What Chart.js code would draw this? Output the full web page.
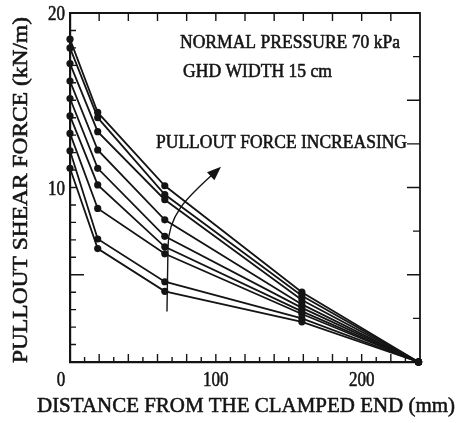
<!DOCTYPE html>
<html>
<head>
<meta charset="utf-8">
<script src="https://cdn.jsdelivr.net/npm/chart.js@4.4.1/dist/chart.umd.min.js"></script>
<style>
  html, body { margin: 0; padding: 0; background: #fff; }
  #wrap { width: 456px; height: 423px; }
</style>
</head>
<body>
<div id="wrap"><canvas id="shearChart"></canvas></div>
<script>
// Distance from the clamped end (mm)
const distanceMm = [0, 19, 65, 159, 239];

// Pullout shear force (kN/m), one array per pullout load step
const force1 = [18.5, 14.3, 10.1, 4.0, 0];
const force2 = [18.0, 14.0, 9.6, 3.8, 0];
const force3 = [17.1, 13.2, 9.3, 3.55, 0];
const force4 = [16.1, 12.15, 8.15, 3.3, 0];
const force5 = [15.1, 11.1, 7.2, 3.1, 0];
const force6 = [14.1, 10.15, 6.6, 2.9, 0];
const force7 = [13.1, 8.8, 6.2, 2.75, 0];
const force8 = [12.1, 7.05, 4.6, 2.5, 0];
const force9 = [11.1, 6.5, 4.05, 2.3, 0];
const allForces = [force1, force2, force3, force4, force5, force6, force7, force8, force9];

const xLabels = [0, 100, 200];
const yLabels = [10, 20];

const INK = '#141414';
const SERIF = '"Liberation Serif", "DejaVu Serif", serif';

// draw text squeezed/stretched to a given width, a little heavy like the scan
function fitText(ctx, text, x, y, width, size) {
  ctx.font = `${size}px ${SERIF}`;
  const w = ctx.measureText(text).width;
  ctx.save();
  ctx.translate(x, y);
  ctx.scale(width / w, 1);
  ctx.textAlign = 'left';
  ctx.textBaseline = 'alphabetic';
  ctx.lineWidth = 0.55;
  ctx.lineJoin = 'round';
  ctx.fillText(text, 0, 0);
  ctx.strokeText(text, 0, 0);
  ctx.restore();
}

const framePlugin = {
  id: 'frame',
  afterDraw(chart) {
    const { ctx, chartArea: a, scales: { x, y } } = chart;
    ctx.save();
    ctx.strokeStyle = INK;
    ctx.fillStyle = INK;

    // top and right border
    ctx.lineWidth = 1.8;
    ctx.beginPath();
    ctx.moveTo(a.left, a.top);
    ctx.lineTo(a.right, a.top);
    ctx.lineTo(a.right, a.bottom);
    ctx.stroke();

    // inward ticks
    ctx.lineWidth = 1.4;
    ctx.beginPath();
    for (let v = 10; v < 240; v += 10) {
      const px = x.getPixelForValue(v);
      const len = v % 20 === 0 ? 8 : 5;
      ctx.moveTo(px, a.bottom);
      ctx.lineTo(px, a.bottom - len);
    }
    for (let v = 20; v < 240; v += 20) {
      const px = x.getPixelForValue(v);
      ctx.moveTo(px, a.top);
      ctx.lineTo(px, a.top + 8);
    }
    for (let v = 1; v < 20; v++) {
      const py = y.getPixelForValue(v);
      const len = v === 5 ? 14 : 6;
      ctx.moveTo(a.left, py);
      ctx.lineTo(a.left + len, py);
    }
    for (let v = 2.5; v < 20; v += 2.5) {
      const py = y.getPixelForValue(v);
      const len = v % 5 === 0 || v === 12.5 ? 13 : 7;
      ctx.moveTo(a.right, py);
      ctx.lineTo(a.right - len, py);
    }
    ctx.stroke();

    // tick labels
    xLabels.forEach(v => {
      const txt = String(v);
      ctx.font = `20px ${SERIF}`;
      const w = ctx.measureText(txt).width * 0.85;
      const cx = x.getPixelForValue(v) - (v === 0 ? 9 : 0);
      fitText(ctx, txt, cx - w / 2, 386, w, 20);
    });
    yLabels.forEach(v => {
      const txt = String(v);
      ctx.font = `20px ${SERIF}`;
      const w = ctx.measureText(txt).width * 0.85;
      fitText(ctx, txt, a.left - 5 - w, y.getPixelForValue(v) + 7, w, 20);
    });

    // annotations
    fitText(ctx, 'NORMAL PRESSURE 70 kPa', 180, 48, 220, 18);
    fitText(ctx, 'GHD WIDTH 15 cm', 183, 77, 149, 18);
    fitText(ctx, 'PULLOUT FORCE INCREASING', 156, 148, 251, 18);

    // axis titles
    fitText(ctx, 'DISTANCE FROM THE CLAMPED END (mm)', 37, 412, 418, 21);
    ctx.save();
    ctx.translate(27, 363);
    ctx.rotate(-Math.PI / 2);
    fitText(ctx, 'PULLOUT SHEAR FORCE (kN/m)', 0, 0, 346, 20);
    ctx.restore();

    // curved arrow (positions in data units)
    const P = (mx, kn) => [x.getPixelForValue(mx), y.getPixelForValue(kn)];
    const s0 = P(66.5, 2.9), s1 = P(67.2, 6.6);
    const c1 = P(67.2, 8.5), c2 = P(81.5, 9.5), e = P(98.5, 10.8);
    ctx.lineWidth = 1.4;
    ctx.beginPath();
    ctx.moveTo(s0[0], s0[1]);
    ctx.lineTo(s1[0], s1[1]);
    ctx.bezierCurveTo(c1[0], c1[1], c2[0], c2[1], e[0], e[1]);
    ctx.stroke();
    const ang = Math.atan2(e[1] - c2[1], e[0] - c2[0]);
    const tip = [e[0] + 10 * Math.cos(ang), e[1] + 10 * Math.sin(ang)];
    ctx.beginPath();
    ctx.moveTo(tip[0], tip[1]);
    ctx.lineTo(tip[0] - 14 * Math.cos(ang) + 5.5 * Math.sin(ang), tip[1] - 14 * Math.sin(ang) - 5.5 * Math.cos(ang));
    ctx.lineTo(tip[0] - 14 * Math.cos(ang) - 5.5 * Math.sin(ang), tip[1] - 14 * Math.sin(ang) + 5.5 * Math.cos(ang));
    ctx.closePath();
    ctx.fill();

    ctx.restore();
  }
};

new Chart(document.getElementById('shearChart'), {
  type: 'line',
  data: {
    datasets: allForces.map((f, i) => ({
      label: 'step ' + (i + 1),
      data: distanceMm.map((d, j) => ({ x: d, y: f[j] })),
      borderColor: INK,
      backgroundColor: INK,
      borderWidth: 1.8,
      pointRadius: 3.6,
      pointBackgroundColor: INK,
      pointBorderWidth: 0,
      tension: 0,
      clip: false
    }))
  },
  options: {
    responsive: true,
    maintainAspectRatio: false,
    animation: false,
    layout: { padding: { left: 70, right: 36, top: 13, bottom: 61 } },
    plugins: { legend: { display: false }, tooltip: { enabled: false } },
    scales: {
      x: {
        type: 'linear',
        min: 0,
        max: 240,
        ticks: { display: false },
        grid: { display: false, drawTicks: false },
        border: { display: true, color: INK, width: 2.2 }
      },
      y: {
        min: 0,
        max: 20,
        ticks: { display: false },
        grid: { display: false, drawTicks: false },
        border: { display: true, color: INK, width: 2.2 }
      }
    }
  },
  plugins: [framePlugin]
});
</script>
</body>
</html>
